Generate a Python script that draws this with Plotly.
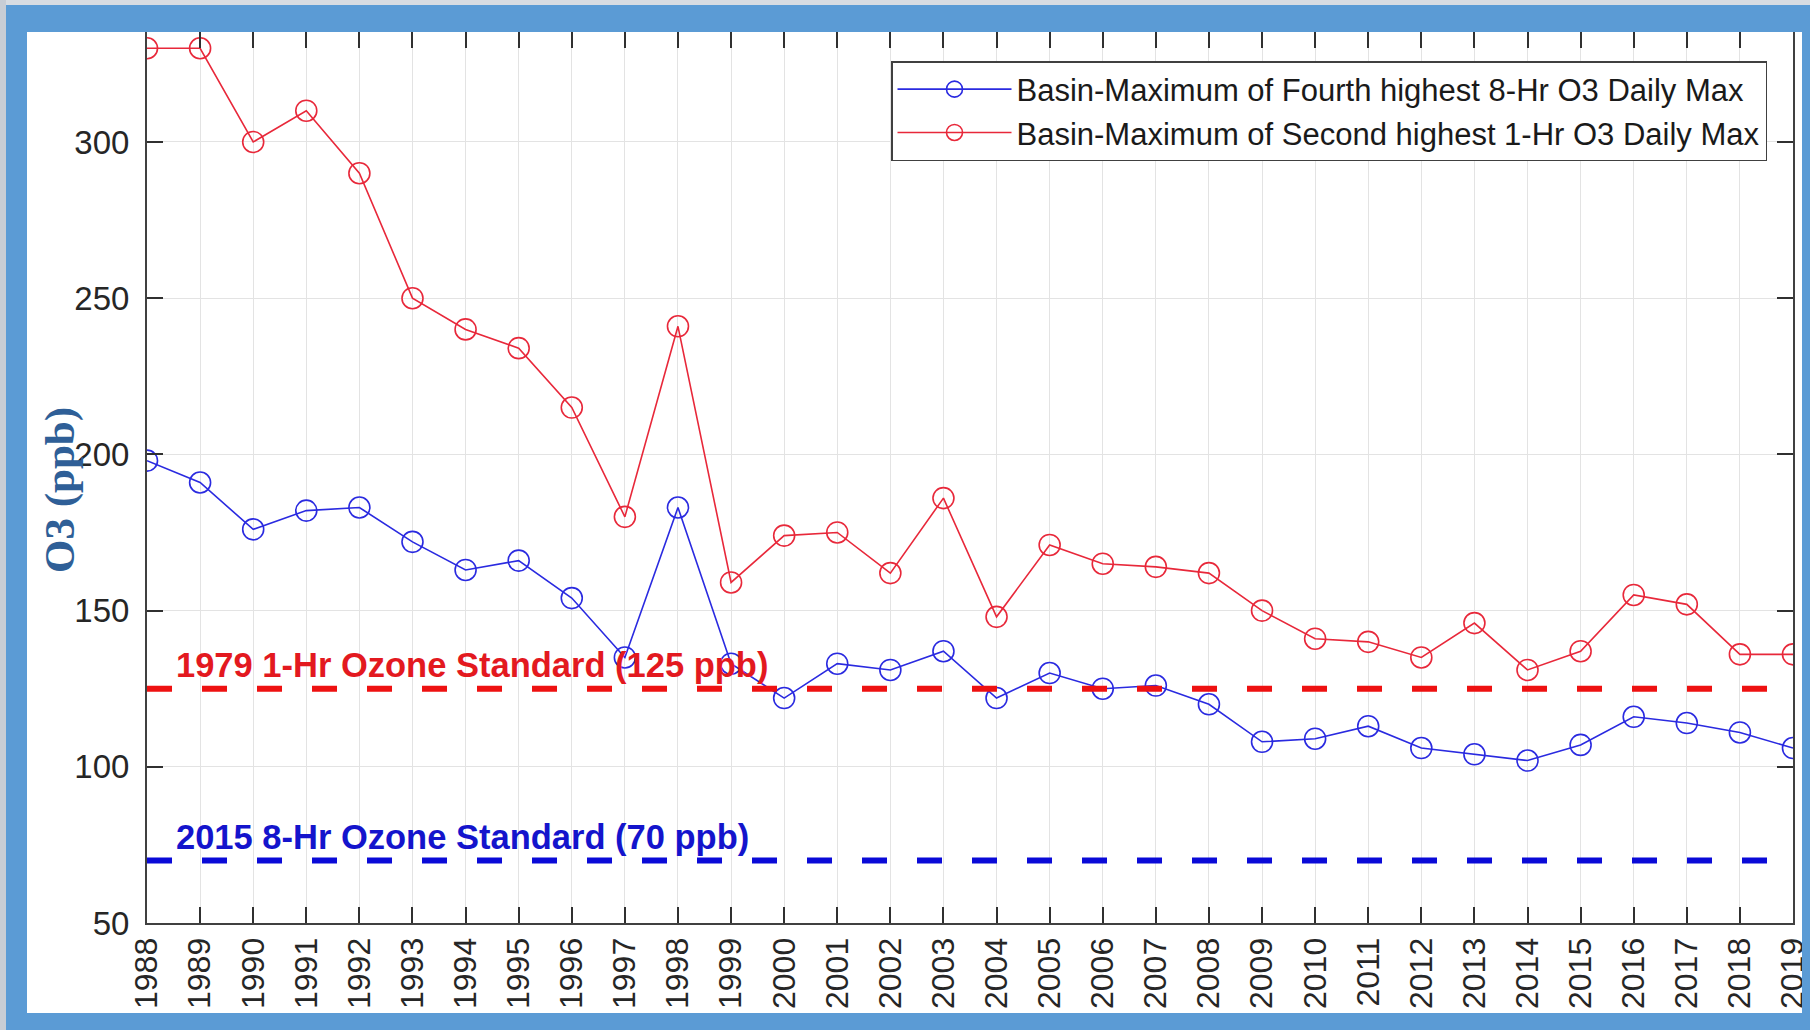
import plotly.graph_objects as go

years = list(range(1988, 2020))
max4_8hr = [198, 191, 176, 182, 183, 172, 163, 166, 154, 135, 183, 133, 122, 133, 131, 137,
            122, 130, 125, 126, 120, 108, 109, 113, 106, 104, 102, 107, 116, 114, 111, 106]
max2_1hr = [330, 330, 300, 310, 290, 250, 240, 234, 215, 180, 241, 159, 174, 175, 162, 186,
            148, 171, 165, 164, 162, 150, 141, 140, 135, 146, 131, 137, 155, 152, 136, 136]
name_8hr = "Basin-Maximum of Fourth highest 8-Hr O3 Daily Max"
name_1hr = "Basin-Maximum of Second highest 1-Hr O3 Daily Max"
std_1hr_value = 125
std_8hr_value = 70
std_1hr_label = "1979 1-Hr Ozone Standard (125 ppb)"
std_8hr_label = "2015 8-Hr Ozone Standard (70 ppb)"
y_ticks = [50, 100, 150, 200, 250, 300]
y_title = "O3 (ppb)"

W, H = 1810, 1030
L, R, T, B = 147, 17, 32, 107
PW, PH = W - L - R, H - T - B


def px(x):
    return (x - L) / PW


def py(y):
    return (H - B - y) / PH


fig = go.Figure()
fig.add_trace(go.Scatter(
    x=years, y=max4_8hr, name=name_8hr, mode="lines+markers",
    line=dict(color="#2a2ae0", width=1.6),
    marker=dict(symbol="circle-open", size=21, color="#2a2ae0", line=dict(width=1.6)),
))
fig.add_trace(go.Scatter(
    x=years, y=max2_1hr, name=name_1hr, mode="lines+markers",
    line=dict(color="#e8283a", width=1.6),
    marker=dict(symbol="circle-open", size=21, color="#e8283a", line=dict(width=1.6)),
))
fig.add_trace(go.Scatter(
    x=[years[0], years[-1]], y=[std_1hr_value] * 2, mode="lines", showlegend=False,
    line=dict(color="#ee1111", width=6, dash="25px,30px"), hoverinfo="skip",
))
fig.add_trace(go.Scatter(
    x=[years[0], years[-1]], y=[std_8hr_value] * 2, mode="lines", showlegend=False,
    line=dict(color="#0a0ad8", width=6, dash="25px,30px"), hoverinfo="skip",
))

fig.add_annotation(x=1988.5, y=132.5, xref="x", yref="y", text="<b>" + std_1hr_label + "</b>",
                   showarrow=False, xanchor="left", yanchor="middle",
                   font=dict(family="Liberation Sans, Arial", size=34.5, color="#e3191f"))
fig.add_annotation(x=1988.5, y=77.5, xref="x", yref="y", text="<b>" + std_8hr_label + "</b>",
                   showarrow=False, xanchor="left", yanchor="middle",
                   font=dict(family="Liberation Sans, Arial", size=34.5, color="#1414cc"))
fig.add_annotation(x=px(60), y=py(490), xref="paper", yref="paper", text="<b>" + y_title + "</b>",
                   showarrow=False, textangle=-90, xanchor="center", yanchor="middle",
                   font=dict(family="Liberation Serif, serif", size=43, color="#2f5f97"))

blue = "#5b9bd5"
shapes = [
    dict(type="rect", xref="paper", yref="paper", x0=px(0), x1=px(W), y0=py(0), y1=py(5),
         fillcolor="#d8dce2", line=dict(width=0), layer="above"),
    dict(type="rect", xref="paper", yref="paper", x0=px(0), x1=px(6), y0=py(0), y1=py(H),
         fillcolor="#c8cdd5", line=dict(width=0), layer="above"),
    dict(type="rect", xref="paper", yref="paper", x0=px(6), x1=px(W), y0=py(5), y1=py(32),
         fillcolor=blue, line=dict(width=0), layer="above"),
    dict(type="rect", xref="paper", yref="paper", x0=px(6), x1=px(27), y0=py(5), y1=py(H),
         fillcolor=blue, line=dict(width=0), layer="above"),
    dict(type="rect", xref="paper", yref="paper", x0=px(6), x1=px(W), y0=py(1013), y1=py(H),
         fillcolor=blue, line=dict(width=0), layer="above"),
    dict(type="rect", xref="paper", yref="paper", x0=px(1802), x1=px(W), y0=py(5), y1=py(H),
         fillcolor=blue, line=dict(width=0), layer="above"),
]

fig.update_layout(
    width=W, height=H, autosize=False,
    margin=dict(l=L, r=R, t=T, b=B, pad=0, autoexpand=False),
    paper_bgcolor="white", plot_bgcolor="white",
    font=dict(family="Liberation Sans, Arial", color="#262626"),
    shapes=shapes,
    showlegend=True,
    legend=dict(
        x=px(1767), y=py(61), xanchor="right", yanchor="top",
        bgcolor="white", bordercolor="#404040", borderwidth=1.5,
        font=dict(family="Liberation Sans, Arial", size=31, color="#1a1a1a"),
        tracegroupgap=0, itemwidth=114,
    ),
    xaxis=dict(
        range=[1987.9999, 2019.0001], tickmode="array", tickvals=years,
        ticktext=[str(y) for y in years], automargin=False,
        tickangle=-90, ticks="inside", ticklen=16, tickwidth=1.5, tickcolor="#303030",
        showline=True, linecolor="#404040", linewidth=2, mirror="ticks",
        showgrid=True, gridcolor="#e3e3e3", gridwidth=1, zeroline=False,
        tickfont=dict(size=32, color="#262626"), ticklabeloverflow="allow",
    ),
    yaxis=dict(
        range=[50, 335.2], tickmode="array", tickvals=y_ticks, automargin=False,
        ticks="inside", ticklen=16, tickwidth=1.5, tickcolor="#303030",
        showline=True, linecolor="#404040", linewidth=2, mirror="ticks",
        showgrid=True, gridcolor="#e3e3e3", gridwidth=1, zeroline=False,
        tickfont=dict(size=33, color="#262626"), ticklabelstandoff=9,
    ),
)

fig.write_html(
    "out.html",
    config={"displayModeBar": False, "responsive": False},
    post_script="document.body.style.margin='0px';document.body.style.overflow='hidden';",
)
